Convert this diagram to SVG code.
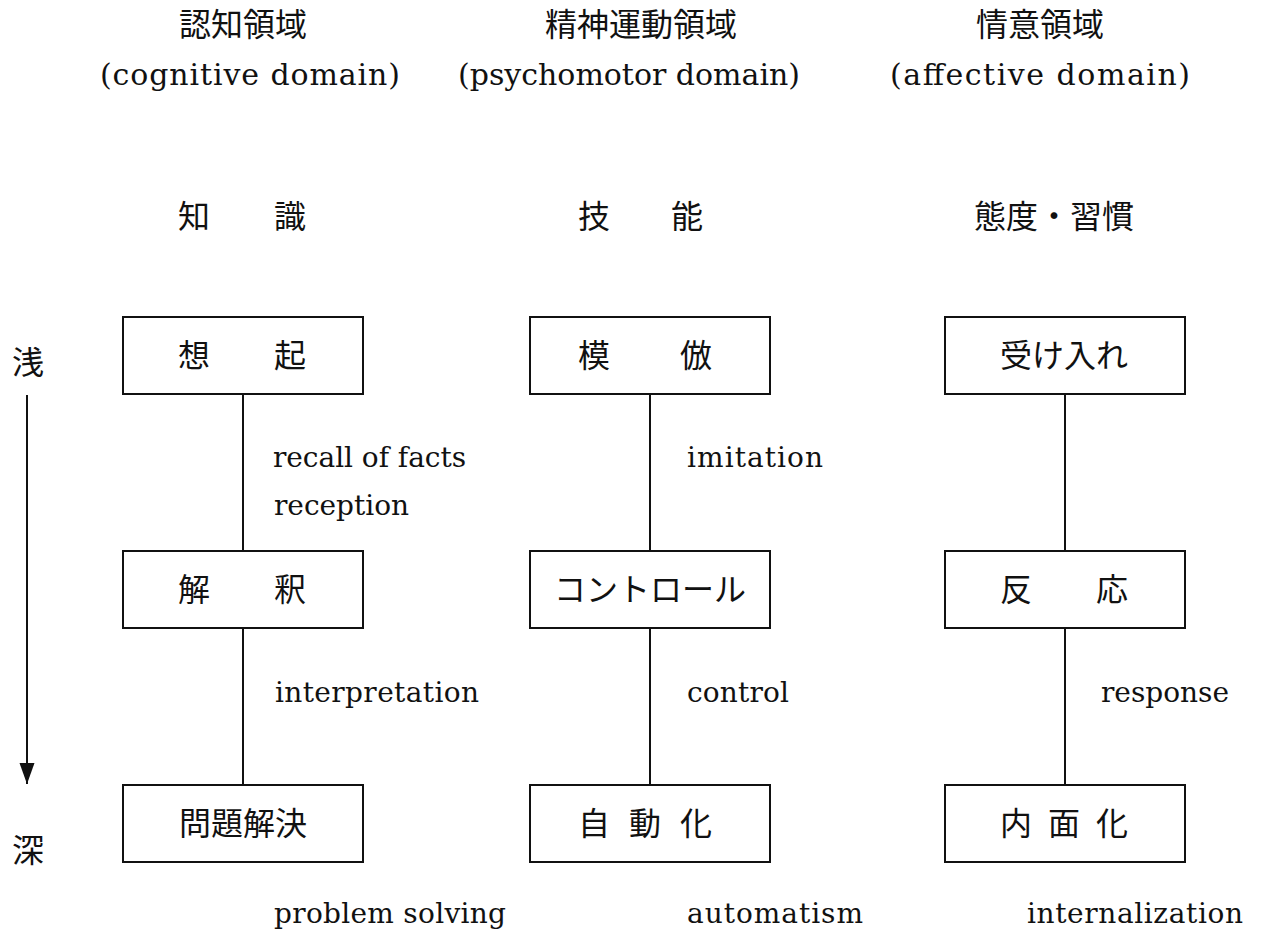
<svg xmlns="http://www.w3.org/2000/svg" width="1263" height="945" viewBox="0 0 1263 945">
<style>
.jp{font-family:"Noto Sans CJK JP","Noto Sans CJK SC",sans-serif;font-size:32px;fill:#111;}
.en{font-family:"DejaVu Serif","Liberation Serif",serif;font-size:28px;fill:#111;}
.hd{font-size:30px;}
.box{fill:#fff;stroke:#111;stroke-width:2;}
.con{stroke:#111;stroke-width:2;fill:none;}
</style>
<defs>
<marker id="ah" markerWidth="22" markerHeight="16" refX="21" refY="7.5" orient="auto" markerUnits="userSpaceOnUse" viewBox="0 0 22 15">
<path d="M0,0 L21,7.5 L0,15 Z" fill="#111"/>
</marker>
</defs>
<rect width="1263" height="945" fill="#fff"/>

<g id="headers">
<text class="jp" x="243" y="36" text-anchor="middle">認知領域</text>
<text class="en hd" x="100" y="85" textLength="300" lengthAdjust="spacing">(cognitive domain)</text>
<text class="jp" x="641" y="36" text-anchor="middle">精神運動領域</text>
<text class="en hd" x="458" y="85" textLength="342" lengthAdjust="spacing">(psychomotor domain)</text>
<text class="jp" x="1040" y="36" text-anchor="middle">情意領域</text>
<text class="en hd" x="890" y="85" textLength="300" lengthAdjust="spacing">(affective domain)</text>
</g>

<g id="levels">
<text class="jp" x="178 274" y="228">知識</text>
<text class="jp" x="578 671" y="228">技能</text>
<text class="jp" x="1054" y="228" text-anchor="middle">態度・習慣</text>
</g>

<g id="depth-axis">
<text class="jp" x="12" y="374">浅</text>
<line class="con" x1="27" y1="395" x2="27" y2="784" marker-end="url(#ah)"/>
<text class="jp" x="12" y="862">深</text>
</g>

<g id="connectors">
<line class="con" x1="243" y1="394" x2="243" y2="550"/>
<line class="con" x1="243" y1="628" x2="243" y2="784"/>
<line class="con" x1="650" y1="394" x2="650" y2="550"/>
<line class="con" x1="650" y1="628" x2="650" y2="784"/>
<line class="con" x1="1065" y1="394" x2="1065" y2="550"/>
<line class="con" x1="1065" y1="628" x2="1065" y2="784"/>
</g>

<g id="node-souki">
<rect class="box" x="123" y="317" width="240" height="77"/>
<text class="jp" x="178 274" y="367">想起</text>
</g>
<g id="node-kaishaku">
<rect class="box" x="123" y="551" width="240" height="77"/>
<text class="jp" x="178 274" y="601">解釈</text>
</g>
<g id="node-mondai">
<rect class="box" x="123" y="785" width="240" height="77"/>
<text class="jp" x="243" y="835" text-anchor="middle">問題解決</text>
</g>

<g id="node-mohou">
<rect class="box" x="530" y="317" width="240" height="77"/>
<text class="jp" x="578 680" y="367">模倣</text>
</g>
<g id="node-control">
<rect class="box" x="530" y="551" width="240" height="77"/>
<text class="jp" x="650" y="601" text-anchor="middle">コントロール</text>
</g>
<g id="node-jidouka">
<rect class="box" x="530" y="785" width="240" height="77"/>
<text class="jp" x="578 629 680" y="835">自動化</text>
</g>

<g id="node-ukeire">
<rect class="box" x="945" y="317" width="240" height="77"/>
<text class="jp" x="1064" y="367" text-anchor="middle">受け入れ</text>
</g>
<g id="node-hannou">
<rect class="box" x="945" y="551" width="240" height="77"/>
<text class="jp" x="1000 1096" y="601">反応</text>
</g>
<g id="node-naimenka">
<rect class="box" x="945" y="785" width="240" height="77"/>
<text class="jp" x="1000 1048 1096" y="835">内面化</text>
</g>

<g id="labels">
<text class="en" x="273" y="467" textLength="193" lengthAdjust="spacing">recall of facts</text>
<text class="en" x="274" y="515" textLength="135" lengthAdjust="spacing">reception</text>
<text class="en" x="275" y="702" textLength="204" lengthAdjust="spacing">interpretation</text>
<text class="en" x="687" y="467" textLength="136" lengthAdjust="spacing">imitation</text>
<text class="en" x="687" y="702" textLength="102" lengthAdjust="spacing">control</text>
<text class="en" x="1101" y="702" textLength="128" lengthAdjust="spacing">response</text>
<text class="en" x="274" y="923" textLength="232" lengthAdjust="spacing">problem solving</text>
<text class="en" x="687" y="923" textLength="176" lengthAdjust="spacing">automatism</text>
<text class="en" x="1027" y="923" textLength="216" lengthAdjust="spacing">internalization</text>
</g>
</svg>
